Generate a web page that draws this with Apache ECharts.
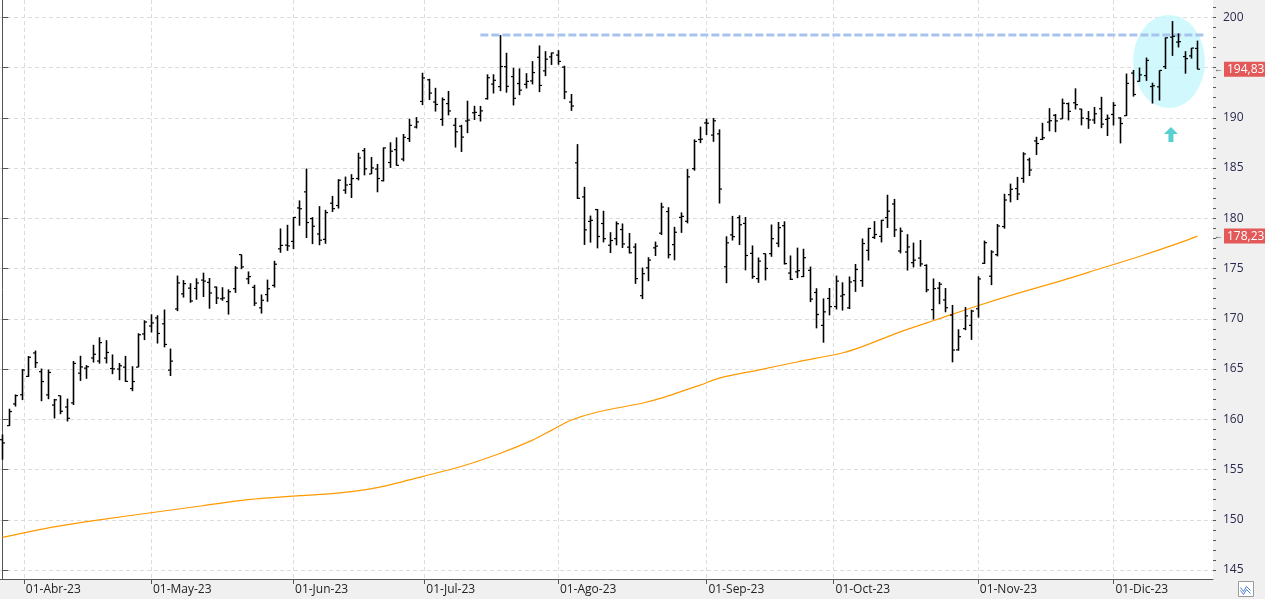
<!DOCTYPE html>
<html><head><meta charset="utf-8">
<script src="https://cdn.jsdelivr.net/npm/echarts@6/dist/echarts.min.js"></script>
<style>html,body{margin:0;padding:0;background:#f0f0f0}#c{width:1265px;height:599px}</style>
</head><body><div id="c"></div>
<script>
// Daily OHLC, 28-Mar-23 .. 20-Dec-23 (one entry per trading day)
const opens = [157.97,159.37,161.53,162.44,
164.27,166.60,164.74,162.43,161.42,162.35,161.22,161.63,164.59,165.09,166.10,165.80,166.09,165.05,165.00,165.19,163.06,165.19,168.49,
169.28,170.09,169.50,164.89,170.98,172.48,173.05,173.02,173.85,173.62,173.16,171.99,171.71,173.00,176.39,173.98,173.13,171.09,172.41,173.32,176.96,177.33,
177.70,181.03,182.63,179.97,178.44,177.90,181.50,181.27,182.80,183.37,183.96,186.73,184.41,184.90,183.74,185.55,186.83,185.89,187.93,189.08,191.63,
193.78,191.57,189.84,191.41,189.26,189.16,189.68,190.50,190.23,191.90,193.35,193.10,195.09,194.10,193.41,193.33,193.67,196.02,194.67,196.06,
196.24,195.04,191.57,185.52,182.13,179.69,180.87,179.48,177.32,177.97,178.88,177.13,177.14,172.30,175.07,177.06,178.52,180.67,177.38,180.09,179.70,184.94,187.84,
189.49,188.28,188.40,175.18,178.35,180.07,179.49,176.51,174.00,176.48,176.48,177.52,179.26,174.55,174.67,174.20,174.82,172.62,169.34,172.02,
171.22,172.26,171.09,173.79,173.80,176.81,178.10,178.20,180.07,181.42,176.75,176.65,175.58,176.04,175.31,170.91,173.05,171.88,170.37,166.91,169.02,169.35,
171.00,175.52,174.24,176.38,179.18,182.35,182.96,183.97,185.82,187.70,187.85,189.57,190.25,189.89,191.41,191.49,190.87,189.92,189.78,190.90,189.84,
190.33,189.98,190.21,194.45,193.63,194.20,193.11,193.08,195.09,198.02,197.53,196.09,196.16,196.90];
const highs = [158.49,161.05,162.47,165.00,
166.29,166.84,165.05,164.96,162.03,162.36,162.06,165.80,166.32,165.39,167.41,168.16,167.87,166.45,165.60,166.31,165.28,168.56,169.85,
170.45,170.35,170.92,167.04,174.30,173.85,173.54,174.03,174.59,174.06,173.21,173.14,172.93,175.24,176.39,174.71,173.38,172.42,173.90,175.77,178.99,179.35,
180.12,181.78,184.95,180.12,181.21,180.84,182.23,183.89,184.15,184.39,186.52,186.99,186.10,185.41,187.05,187.56,188.05,188.39,189.90,190.07,194.48,
193.88,192.98,192.02,192.67,189.99,189.30,191.70,191.19,191.18,194.32,194.33,198.23,196.47,194.97,194.91,194.44,195.64,197.20,196.63,196.49,
196.73,195.18,192.37,187.38,183.13,180.27,180.93,180.75,178.62,179.69,179.48,178.54,177.51,175.10,176.13,177.68,181.55,181.10,179.15,180.59,184.90,187.85,189.12,
189.92,189.98,188.85,178.21,180.24,180.30,180.13,177.30,176.10,176.50,179.38,179.63,179.70,176.30,177.08,176.97,175.20,173.04,172.03,173.07,
174.30,173.63,174.21,175.45,177.99,179.05,179.72,179.85,182.34,181.93,179.08,178.42,177.58,177.84,175.42,174.01,173.67,173.06,171.38,168.96,171.17,170.90,
174.23,177.78,176.82,179.43,182.44,183.45,184.12,186.57,186.03,188.11,189.50,190.96,190.38,191.91,191.52,192.93,190.90,190.67,191.08,192.09,190.32,
191.56,190.05,194.40,194.76,195.00,195.99,193.49,194.72,198.00,199.62,198.40,196.63,196.95,197.68];
const lows = [155.98,159.35,161.27,161.91,
164.22,165.11,161.80,162.00,160.08,160.51,159.78,161.42,163.82,164.03,165.65,165.54,165.56,164.49,163.89,163.73,162.80,165.19,167.88,
168.64,167.54,167.16,164.31,170.76,172.11,171.60,171.90,172.17,171.00,171.47,171.80,170.42,172.58,174.94,173.45,171.28,170.52,171.69,173.11,176.57,176.76,
176.93,179.26,178.04,177.43,177.32,177.46,180.63,180.97,182.44,182.02,183.78,184.27,184.41,182.59,183.67,185.01,185.23,185.67,187.60,188.94,191.26,
191.76,190.62,189.20,190.24,187.04,186.60,188.47,189.78,189.63,191.81,192.42,192.65,192.50,191.23,192.25,192.92,193.32,192.55,194.14,195.26,
195.28,191.85,190.69,181.92,177.35,177.58,177.01,177.60,176.55,177.31,177.05,176.50,173.48,171.96,173.74,176.25,178.33,176.01,175.82,178.55,179.50,184.74,187.48,
188.28,187.61,181.47,173.54,177.79,177.34,174.82,173.98,173.58,173.82,176.17,177.13,175.40,173.86,174.05,174.15,171.66,169.05,167.62,170.34,
170.93,170.82,170.97,172.68,173.18,175.80,177.95,177.60,179.04,178.14,176.51,174.80,175.11,175.19,172.64,169.93,171.45,170.65,165.67,166.83,168.87,167.90,
170.12,175.46,173.35,176.21,178.97,181.59,181.81,183.53,184.21,186.30,187.78,188.65,188.57,189.88,189.74,190.83,189.25,188.90,189.40,188.97,188.19,
189.23,187.45,190.18,192.11,193.59,193.67,191.42,191.72,194.85,196.16,197.00,194.39,195.89,194.83];
const closes = [157.65,160.77,162.36,164.90,
166.17,165.63,163.76,164.66,161.94,160.80,160.10,165.56,165.21,165.23,166.47,167.63,166.65,165.02,165.33,163.77,163.76,168.41,169.68,
169.59,168.54,167.45,165.79,173.57,173.50,171.77,173.56,173.75,172.57,172.07,172.07,172.69,175.05,175.16,174.20,171.56,171.84,172.99,175.43,177.30,177.25,
180.09,180.95,179.58,179.21,177.82,180.57,180.96,183.79,183.31,183.95,186.01,184.92,185.01,183.96,187.00,186.68,185.27,188.06,189.25,189.59,193.97,
192.46,191.33,191.81,190.68,188.61,188.08,189.77,190.54,190.69,193.99,193.73,195.10,193.13,191.94,192.75,193.62,194.50,193.22,195.83,196.45,
195.61,192.58,191.17,181.99,178.85,179.80,178.19,177.97,177.79,179.46,177.45,176.57,174.00,174.49,175.84,177.23,181.12,176.38,178.61,180.19,184.12,187.65,187.87,
189.46,189.70,182.91,177.56,178.18,179.36,176.30,174.21,175.74,175.01,177.97,179.07,175.49,173.93,174.79,176.08,171.96,170.43,170.69,171.21,
173.75,172.40,173.66,174.91,177.49,178.99,178.39,179.80,180.71,178.85,178.72,177.15,175.84,175.46,172.88,173.00,173.44,171.10,166.89,168.22,170.29,170.77,
173.97,177.57,176.65,179.23,181.82,182.89,182.41,186.40,184.80,187.44,188.01,189.71,189.69,191.45,190.64,191.31,189.97,189.79,190.40,189.37,189.95,
191.24,189.43,193.42,192.32,194.27,195.71,193.18,194.71,197.96,198.11,197.57,195.89,196.94,194.83];

// 200-session moving average at these bar indices
const maIndex  = [0, 8, 15, 23, 31, 38, 46, 51, 54, 58, 62, 65, 71, 77, 82, 85, 88, 92, 99, 102, 108, 111, 117, 123, 130, 133, 139, 145, 151, 157, 164, 170, 176, 182, 185];
const maValues = [148.25, 149.3, 150.0, 150.7, 151.4, 152.0, 152.4, 152.6, 152.8, 153.2, 153.8, 154.3, 155.3, 156.6, 157.9, 158.9, 159.9, 160.7, 161.6, 162.1, 163.4, 164.1, 164.9, 165.7, 166.6, 167.2, 168.7, 170.0, 171.3, 172.5, 173.8, 175.0, 176.2, 177.5, 178.23];

// Month ticks (bar-index position of the 1st calendar day) and their labels
const monthTickPos = [3.33, 23, 45, 65.33, 86, 109, 128.67, 151, 172];
const monthTickLabels = ['01-Abr-23','01-May-23','01-Jun-23','01-Jul-23','01-Ago-23','01-Sep-23','01-Oct-23','01-Nov-23','01-Dic-23'];
const priceTicks = [145,150,155,160,165,170,175,180,185,190,195,200];
const priceMinorTicks = [];
for (let v = 145; v <= 201; v++) priceMinorTicks.push(v);

// Annotations
const resistanceLevel = Math.max(...highs.slice(66, 86)); // July high
const resistanceFrom = 74, resistanceTo = 186.2;
const highlightCenter = [180.6, 195.6];
const arrowPoint = [180.9, 188.34];

const n = opens.length;
const ohlc = opens.map((o, i) => [i, o, highs[i], lows[i], closes[i]]);
const maData = maIndex.map((x, i) => [x, maValues[i]]);
const lastClose = closes[n - 1];
const lastMA = maValues[maValues.length - 1];
const fmt = v => v.toFixed(2).replace('.', ',');
const FONT = 'Open Sans';

function priceTag(v) {
  return {
    show: true, position: 'end', distance: 1,
    formatter: '{a|\u2190}{b|' + fmt(v) + '}',
    rich: {
      a: { color: '#555', fontSize: 9, padding: [0, 1, 0, 0], fontFamily: FONT },
      b: { color: '#fff', backgroundColor: '#e35959', fontSize: 12, fontFamily: FONT, padding: [2, 3, 1, 3] }
    }
  };
}

const chart = echarts.init(document.getElementById('c'));
chart.setOption({
  animation: false,
  backgroundColor: '#f0f0f0',
  grid: { left: 0, right: 52, top: 0, bottom: 20, show: true, backgroundColor: '#ffffff', borderWidth: 0 },
  xAxis: {
    type: 'value', min: -0.36, max: 187.41,
    axisLine: { show: true, onZero: false, lineStyle: { color: '#555', width: 1 } },
    axisTick: { show: true, length: 5, customValues: monthTickPos, lineStyle: { color: '#555' } },
    axisLabel: {
      customValues: monthTickPos, align: 'left', margin: 5, padding: [0, 0, 0, 2],
      color: '#222', fontSize: 12, fontFamily: FONT,
      formatter: v => {
        let best = 0;
        monthTickPos.forEach((p, i) => { if (Math.abs(p - v) < Math.abs(monthTickPos[best] - v)) best = i; });
        return monthTickLabels[best];
      }
    },
    splitLine: { show: true, lineStyle: { color: '#dcdcdc', type: [4, 3], width: 1 } }
  },
  yAxis: [{
    type: 'value', position: 'right', min: 144.11, max: 201.72, scale: true,
    axisLine: { show: true, lineStyle: { color: '#555' } },
    axisTick: { show: true, length: 6, customValues: priceTicks, lineStyle: { color: '#555' } },
    axisLabel: { customValues: priceTicks, margin: 10, color: '#2a2a4e', fontSize: 12, fontFamily: FONT, formatter: v => String(Math.round(v)) },
    splitLine: { show: true, lineStyle: { color: '#dcdcdc', type: [4, 3], width: 1 } }
  }, {
    type: 'value', position: 'right', min: 144.11, max: 201.72, scale: true,
    axisLine: { show: false },
    axisTick: { show: true, length: 3, customValues: priceMinorTicks, lineStyle: { color: '#555' } },
    axisLabel: { show: false },
    splitLine: { show: false }
  }],
  series: [
    {
      name: 'highlight', type: 'scatter', silent: true, z: 1,
      data: [highlightCenter], symbol: 'circle', symbolSize: [72, 93],
      itemStyle: { color: '#c6f7fc' }
    },
    {
      name: 'arrow', type: 'scatter', silent: true, z: 1,
      data: [arrowPoint], symbol: 'path://M7,0 L14,7 L9.5,7 L9.5,15 L4.5,15 L4.5,7 L0,7 Z', symbolSize: [14, 15],
      itemStyle: { color: '#2ec4c4' }
    },
    {
      name: 'resistance', type: 'line', silent: true, z: 2, showSymbol: false, symbol: 'none',
      data: [[resistanceFrom, resistanceLevel], [resistanceTo, resistanceLevel]],
      lineStyle: { color: '#a7c4ee', width: 3, type: [8, 3] }
    },
    {
      name: 'MA200', type: 'line', silent: true, z: 3, showSymbol: false, symbol: 'none', smooth: 0.3,
      data: maData,
      lineStyle: { color: '#ff9900', width: 1.2 },
      markLine: {
        silent: true, symbol: 'none', animation: false,
        lineStyle: { color: 'rgba(0,0,0,0)', width: 0 },
        data: [{ yAxis: lastMA }],
        label: priceTag(lastMA)
      }
    },
    {
      name: 'OHLC', type: 'custom', z: 4, silent: true,
      data: ohlc,
      encode: { x: 0, y: [1, 2, 3, 4] },
      renderItem: (params, api) => {
        const i = api.value(0);
        const o = api.coord([i, api.value(1)]);
        const h = api.coord([i, api.value(2)]);
        const l = api.coord([i, api.value(3)]);
        const c = api.coord([i, api.value(4)]);
        const x = Math.round(h[0]) + 0.5;
        const st = { stroke: '#000', lineWidth: 1.6 };
        const tk = { stroke: '#000', lineWidth: 1.2 };
        return {
          type: 'group', children: [
            { type: 'line', shape: { x1: x, y1: h[1], x2: x, y2: l[1] }, style: st },
            { type: 'line', shape: { x1: x - 2.5, y1: o[1], x2: x, y2: o[1] }, style: tk },
            { type: 'line', shape: { x1: x, y1: c[1], x2: x + 2.5, y2: c[1] }, style: tk }
          ]
        };
      },
      markLine: {
        silent: true, symbol: 'none', animation: false,
        lineStyle: { color: 'rgba(0,0,0,0)', width: 0 },
        data: [{ yAxis: lastClose }],
        label: priceTag(lastClose)
      }
    }
  ],
  graphic: [{
    type: 'group', left: 1238, top: 581, children: [
      { type: 'rect', shape: { x: 0, y: 0, width: 15, height: 15 }, style: { fill: '#fff', stroke: '#9a9a9a', lineWidth: 1 } },
      { type: 'polyline', shape: { points: [[2, 6], [5, 10], [8, 5], [12, 9]] }, style: { stroke: '#4a7fd0', fill: null, lineWidth: 1 } },
      { type: 'polyline', shape: { points: [[2, 9], [5, 13], [8, 8], [12, 12]] }, style: { stroke: '#4a7fd0', fill: null, lineWidth: 1 } }
    ]
  }]
});
</script>
</body></html>
